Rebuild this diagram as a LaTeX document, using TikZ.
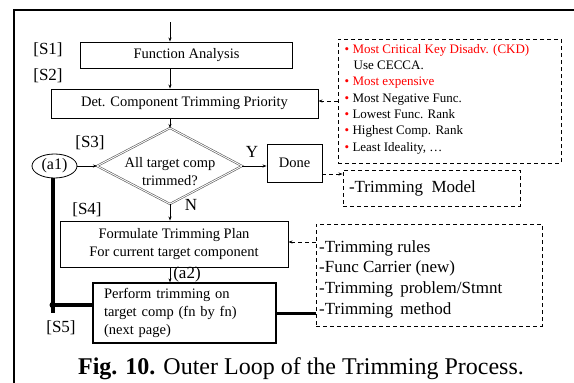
\documentclass[tikz,border=0pt]{standalone}
\usepackage{fontspec}
\setmainfont{Liberation Serif}
\usetikzlibrary{arrows.meta,shapes.geometric}
\begin{document}
\begin{tikzpicture}[x=1pt,y=-1pt,
  box/.style={draw, line width=0.9pt, inner sep=0pt, align=center,
    font=\fontsize{14.5}{18}\selectfont},
  note/.style={draw, dash pattern=on 4pt off 3pt, line width=0.9pt, inner sep=0pt},
  lbl/.style={inner sep=0pt, font=\fontsize{17}{20}\selectfont},
  arr/.style={-{Stealth[length=4pt,width=3pt]}, line width=0.7pt},
  darr/.style={arr, dash pattern=on 4pt off 3pt},
  dmd/.style={draw=black!65, line width=0.6pt, double=white, double distance=0.9pt},
  heavy/.style={line width=4pt}
]
\useasboundingbox (0,0) rectangle (574,383);
% outer frame
\draw[line width=1.8pt] (14,383) -- (14,10) -- (574,10);

% main column
\coordinate (start) at (170,22);
\node[box, minimum width=212, minimum height=26] (fa) at (186.5,55) {Function Analysis};
\node[box, minimum width=267, minimum height=29] (dcp) at (184.5,103.5) {Det. Component Trimming Priority};
\draw[arr] (start) -- (start |- fa.north);
\draw[arr] (fa.south -| start) -- (dcp.north -| start);

% decision
\coordinate (qN) at (170,128);
\coordinate (qS) at (170,204);
\coordinate (qW) at (97,166);
\coordinate (qE) at (242,166);
\draw[dmd] (qN) -- (qE) -- (qS) -- (qW) -- cycle;
\node[box, draw=none] (q) at (170,172) {All target comp\\trimmed?};
\draw[arr] (dcp.south -| qN) -- (qN);

\node[draw, ellipse, line width=0.8pt, minimum width=45, minimum height=24, inner sep=0pt,
  font=\fontsize{16}{18}\selectfont] (a1) at (54.5,166) {(a1)};
\draw[arr] (a1.east) -- (qW);

\node[box, minimum width=55, minimum height=38] (done) at (294.5,163) {Done};
\draw[arr] (qE) -- (qE -| done.west);
\node[lbl] (ylab) at (252,152) {Y};
\node[lbl] (nlab) at (191,205) {N};

% side notes
\node[note, minimum width=177, minimum height=36, inner xsep=6pt, text width=165, align=left,
  font=\fontsize{17}{20}\selectfont] (tm) at (431.5,188) {-Trimming\ \,Model};
\draw[darr] ([yshift=-11pt]done.east) coordinate (d1) -- (d1 -| tm.west);

\node[note, minimum width=223, minimum height=124] (crit) at (449.5,101) {};
\node[anchor=west, inner sep=0pt, align=left, font=\fontsize{13}{16.3}\selectfont] (critlist) at (344.5,99)
  {\textcolor{red}{•~Most Critical Key Disadv. (CKD)}\\
   \hspace{9pt}Use CECCA.\\
   \textcolor{red}{•~Most expensive}\\
   \textcolor{red}{•}~Most Negative Func.\\
   \textcolor{red}{•}~Lowest Func. Rank\\
   \textcolor{red}{•}~Highest Comp. Rank\\
   \textcolor{red}{•}~Least Ideality, …};
\draw[darr] (crit.west) -- (crit.west -| dcp.east);

% planning and trimming
\node[box, minimum width=228, minimum height=46] (form) at (174,244)
  {Formulate Trimming Plan\\For current target component};
\draw[arr] (qS) -- (qS |- form.north);

\node[note, minimum width=226, minimum height=102] (tr) at (429,275) {};
\node[anchor=west, inner sep=0pt, align=left, font=\fontsize{17}{20.7}\selectfont] (trlist) at (319,279)
  {-Trimming rules\\
   -Func Carrier (new)\\
   -Trimming\ \,problem/Stmnt\\
   -Trimming\ \,method};
\draw[darr] ([yshift=33pt]tr.west) coordinate (t1) -- (t1 -| form.east);

\node[box, line width=1.3pt, minimum width=183, minimum height=60, inner xsep=11pt, text width=161,
  align=left] (perf) at (184.5,313)
  {Perform trimming on\\target comp (fn by fn)\\(next page)};
\draw[arr] (form.south -| qS) -- (perf.north -| qS);
\node[lbl] (a2) at (187,274) {(a2)};

% loop-back links
\draw[heavy] ([xshift=-2pt]a1.south) coordinate (a1b) -- (a1b |- perf.west) coordinate (corner);
\draw[heavy] ([yshift=8pt]perf.west) coordinate (p1) -- (p1 -| corner) coordinate (c2);
\fill (c2) circle[radius=3pt];
\draw[line width=3pt] (perf.east) -- (perf.east -| tr.west);

% step labels
\node[lbl] (s1) at (48,50) {[S1]};
\node[lbl] (s2) at (48,76) {[S2]};
\node[lbl] (s3) at (90,143) {[S3]};
\node[lbl] (s4) at (87,210) {[S4]};
\node[lbl] (s5) at (61,328) {[S5]};

\node[inner sep=0pt, font=\fontsize{24}{28}\selectfont] (cap) at (301,369)
  {\textbf{Fig. 10.} Outer Loop of the Trimming Process.};
\end{tikzpicture}
\end{document}
